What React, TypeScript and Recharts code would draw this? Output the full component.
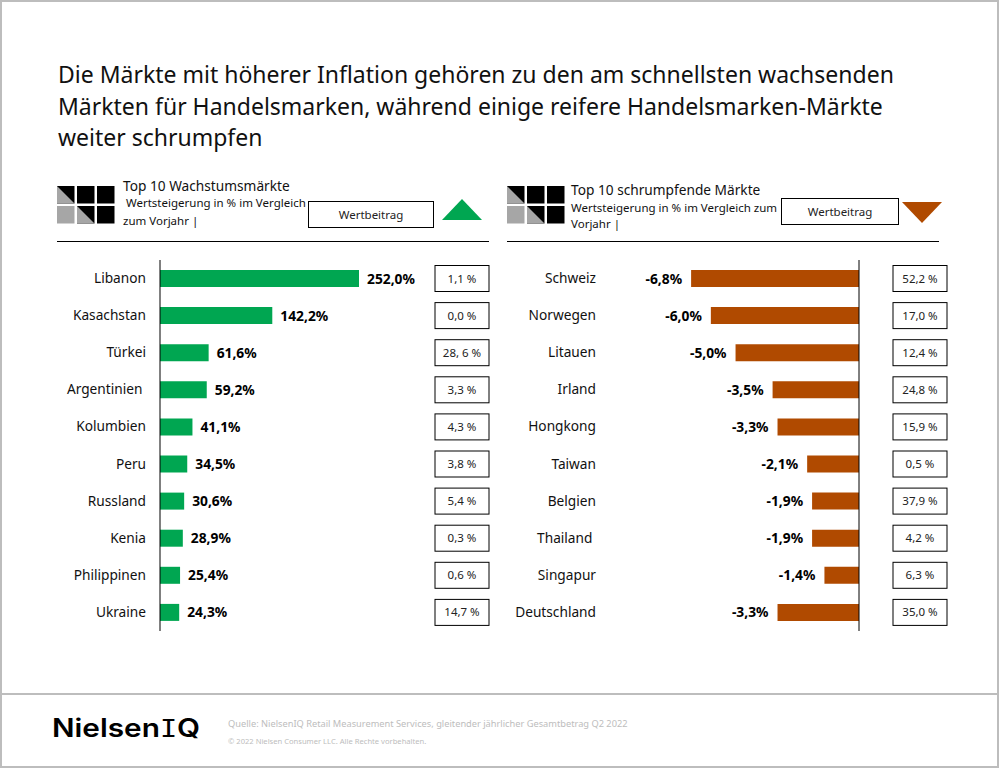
import React from "react";
import { BarChart, Bar, XAxis, YAxis, LabelList, ReferenceLine } from "recharts";

const growthMarkets = ["Libanon", "Kasachstan", "Türkei", "Argentinien ", "Kolumbien", "Peru", "Russland", "Kenia", "Philippinen", "Ukraine"];
const growthValues = [252.0, 142.2, 61.6, 59.2, 41.1, 34.5, 30.6, 28.9, 25.4, 24.3];
const growthShares = ["1,1 %", "0,0 %", "28, 6 %", "3,3 %", "4,3 %", "3,8 %", "5,4 %", "0,3 %", "0,6 %", "14,7 %"];

const shrinkMarkets = ["Schweiz", "Norwegen", "Litauen", "Irland", "Hongkong", "Taiwan", "Belgien", "Thailand ", "Singapur", "Deutschland"];
const shrinkValues = [-6.8, -6.0, -5.0, -3.5, -3.3, -2.1, -1.9, -1.9, -1.4, -3.3];
const shrinkShares = ["52,2 %", "17,0 %", "12,4 %", "24,8 %", "15,9 %", "0,5 %", "37,9 %", "4,2 %", "6,3 %", "35,0 %"];

const titleLines = [
  "Die Märkte mit höherer Inflation gehören zu den am schnellsten wachsenden",
  "Märkten für Handelsmarken, während einige reifere Handelsmarken-Märkte",
  "weiter schrumpfen",
];

const GREEN = "#00A651";
const BROWN = "#B04A00";
const FONT = "'Noto Sans', sans-serif";

const fmt = (v: number) => v.toFixed(1).replace(".", ",") + "%";

function toRows(names: string[], values: number[]) {
  return names.map((name, i) => ({ name, value: values[i] }));
}

function Tick(props: any) {
  const { x, y, payload } = props;
  return (
    <text x={x} y={y} dy={4.5} textAnchor="end" fontFamily={FONT} fontSize={13.7} fill="#111" style={{ whiteSpace: "pre" }}>
      {payload.value}
    </text>
  );
}

function ValueLabel(props: any) {
  const { x, y, width, height, value } = props;
  const neg = value < 0;
  const edge = neg ? Math.min(x, x + width) - 9 : x + width + 8;
  return (
    <text x={edge} y={y + height / 2} dy={5} textAnchor={neg ? "end" : "start"} fontFamily={FONT} fontSize={13.8} fontWeight={700} fill="#000">
      {fmt(value)}
    </text>
  );
}

function shareLabel(shares: string[], boxX: number) {
  return (props: any) => {
    const { y, height, index } = props;
    const cy = y + height / 2;
    return (
      <g>
        <rect x={boxX} y={cy - 13} width={54} height={26} fill="#fff" stroke="#000" strokeWidth={1} />
        <text x={boxX + 27} y={cy} dy={4} textAnchor="middle" fontFamily={FONT} fontSize={11.5} fill="#222">
          {shares[index]}
        </text>
      </g>
    );
  };
}

function Icon({ left, top }: { left: number; top: number }) {
  const s = 17.5;
  const g = 2.5;
  const cells = [
    [0, 0, "h"], [1, 0, "k"], [2, 0, "k"],
    [0, 1, "g"], [1, 1, "h"], [2, 1, "k"],
  ] as const;
  return (
    <svg style={{ position: "absolute", left, top }} width={60} height={40}>
      {cells.map(([c, r, t], i) => {
        const x = c * (s + g);
        const y = r * (s + g);
        if (t === "h") {
          return (
            <g key={i}>
              <rect x={x} y={y} width={s} height={s} fill="#000" />
              <polygon points={`${x},${y} ${x + s},${y + s} ${x},${y + s}`} fill="#A6A6A6" />
            </g>
          );
        }
        return <rect key={i} x={x} y={y} width={s} height={s} fill={t === "k" ? "#000" : "#A6A6A6"} />;
      })}
    </svg>
  );
}

function Txt({ left, top, size, color = "#111", spacing = 0, children }: any) {
  return (
    <div style={{ position: "absolute", left, top, fontSize: size, color, letterSpacing: spacing, fontFamily: FONT, lineHeight: 1, whiteSpace: "pre" }}>
      {children}
    </div>
  );
}

function Box({ left, top, width, height, children }: any) {
  return (
    <div style={{ position: "absolute", left, top, width, height, boxSizing: "border-box", border: "1px solid #000", background: "#fff", fontFamily: FONT, fontSize: 11.5, color: "#222", display: "flex", alignItems: "center", justifyContent: "center" }}>
      {children}
    </div>
  );
}

function Rule({ left, top, width, height = 1, color = "#000" }: any) {
  return <div style={{ position: "absolute", left, top, width, height, background: color }} />;
}

const chartStyle = (left: number): React.CSSProperties => ({ position: "absolute", left, top: 250 });

export default function App() {
  return (
    <div style={{ position: "absolute", left: 0, top: 0, width: 999, height: 768, background: "#fff", overflow: "hidden" }}>
      <div style={{ position: "absolute", inset: 0, border: "2px solid #BDBDBD", boxSizing: "border-box" }} />
      <Rule left={0} top={693} width={999} height={2} color="#BDBDBD" />

      {titleLines.map((line, i) => (
        <Txt key={i} left={58} top={63 + i * 31.5} size={23}>{line}</Txt>
      ))}

      <Icon left={57} top={186} />
      <Txt left={123} top={179} size={13.7}>Top 10 Wachstumsmärkte</Txt>
      <Txt left={126} top={197} size={11.5}>Wertsteigerung in % im Vergleich</Txt>
      <Txt left={123} top={215} size={11.5}>zum Vorjahr |</Txt>
      <Box left={308} top={201} width={126} height={27}>Wertbeitrag</Box>
      <svg style={{ position: "absolute", left: 442, top: 199 }} width={41} height={22}>
        <polygon points="0,21 20,0 40,21" fill={GREEN} />
      </svg>
      <Rule left={57} top={241} width={432} />

      <Icon left={507} top={186} />
      <Txt left={571} top={183} size={13.7}>Top 10 schrumpfende Märkte</Txt>
      <Txt left={571} top={202} size={11.5}>Wertsteigerung in % im Vergleich zum</Txt>
      <Txt left={571} top={218} size={11.5}>Vorjahr |</Txt>
      <Box left={781} top={198} width={118} height={27}>Wertbeitrag</Box>
      <svg style={{ position: "absolute", left: 902, top: 202 }} width={41} height={22}>
        <polygon points="0,0 40,0 20,21" fill={BROWN} />
      </svg>
      <Rule left={507} top={241} width={432} />

      <div style={chartStyle(0)}>
        <BarChart width={499} height={400} layout="vertical" data={toRows(growthMarkets, growthValues)} margin={{ top: 10, bottom: 19, left: 0, right: 140 }} barSize={17}>
          <XAxis type="number" hide domain={[0, 252]} />
          <YAxis type="category" dataKey="name" width={160} tickLine={false} tickSize={0} tickMargin={14} interval={0} tick={<Tick />} axisLine={{ stroke: "#000", strokeWidth: 1 }} />
          <Bar dataKey="value" fill={GREEN} isAnimationActive={false}>
            <LabelList dataKey="value" content={<ValueLabel />} />
            <LabelList dataKey="value" content={shareLabel(growthShares, 435)} />
          </Bar>
        </BarChart>
      </div>

      <div style={chartStyle(499)}>
        <BarChart width={500} height={400} layout="vertical" data={toRows(shrinkMarkets, shrinkValues)} margin={{ top: 10, bottom: 19, left: 0, right: 140 }} barSize={17}>
          <XAxis type="number" hide domain={[-10.49, 0]} allowDataOverflow />
          <YAxis type="category" dataKey="name" width={101} tickLine={false} tickSize={0} tickMargin={4} interval={0} tick={<Tick />} axisLine={false} />
          <Bar dataKey="value" fill={BROWN} isAnimationActive={false}>
            <LabelList dataKey="value" content={<ValueLabel />} />
            <LabelList dataKey="value" content={shareLabel(shrinkShares, 394)} />
          </Bar>
          <ReferenceLine x={0} stroke="#000" strokeWidth={1} />
        </BarChart>
      </div>

      <div style={{ position: "absolute", left: 52, top: 716, fontFamily: "Inter, sans-serif", fontSize: 25, fontWeight: 600, color: "#000", lineHeight: 1, whiteSpace: "pre", transformOrigin: "left center", transform: "scaleX(1.19)" }}>
        Nielsen<span style={{ fontFamily: "'DejaVu Sans Mono', monospace", fontWeight: 400, fontSize: 24 }}>I</span>Q
      </div>
      <Txt left={228} top={719} size={9.25} color="#BDBDBD">Quelle: NielsenIQ Retail Measurement Services, gleitender jährlicher Gesamtbetrag Q2 2022</Txt>
      <Txt left={228} top={738} size={7.6} color="#BDBDBD">© 2022 Nielsen Consumer LLC. Alle Rechte vorbehalten.</Txt>
    </div>
  );
}
